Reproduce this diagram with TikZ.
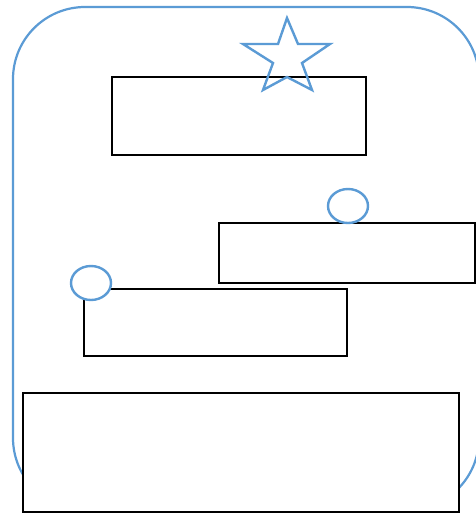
\documentclass[tikz,border=0pt]{standalone}
\usetikzlibrary{shapes.geometric}
\definecolor{shapeblue}{RGB}{91,155,213}
\begin{document}
\begin{tikzpicture}[
    x=1pt, y=-1pt,
    frame/.style={draw=shapeblue, line width=2.2pt, rounded corners=72pt},
    panel/.style={draw=black, fill=white, line width=2.8pt},
    knob/.style={draw=shapeblue, fill=white, line width=2.4pt},
    starline/.style={draw=shapeblue, line width=2.4pt, line join=miter}
    ]
    \fill[white] (0,0) rectangle (476,515);
    \useasboundingbox (0,0) rectangle (476,515);

    % outer rounded frame
    \draw[frame] (13,7) rectangle (479,510);

    % boxes
    \coordinate (upper) at (112,77);
    \coordinate (right) at (219,223);
    \coordinate (middle) at (84,289);
    \coordinate (lower) at (23,393);
    \draw[panel] (upper) rectangle ++(254,78);
    \draw[panel] (right) rectangle ++(256,60);
    \draw[panel] (middle) rectangle ++(263,67);
    \draw[panel] (lower) rectangle ++(436,119);

    % star on top of the upper box
    \draw[starline] (287,18) -- (298,44) -- (330,44) -- (302,63) -- (312,90)
      -- (287,77) -- (263,90) -- (273,63) -- (243,44) -- (278,44) -- cycle;

    % small circles
    \draw[knob] (348,206) ellipse [x radius=20, y radius=17];
    \draw[knob] (91,283) ellipse [x radius=20, y radius=17];
\end{tikzpicture}
\end{document}
